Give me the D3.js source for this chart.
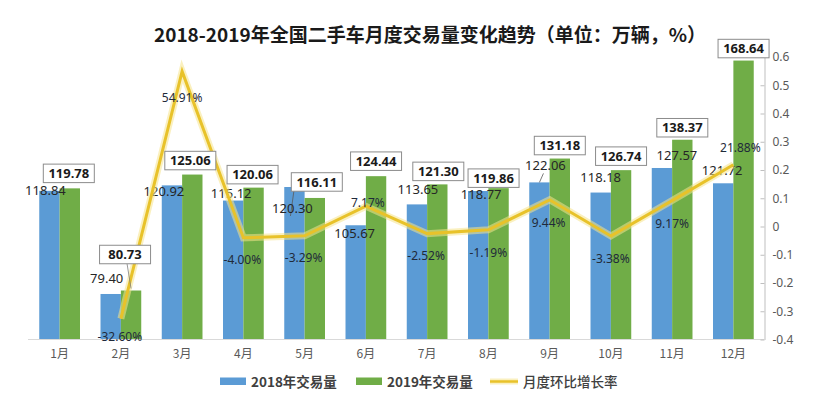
<!DOCTYPE html>
<html><head><meta charset="utf-8">
<script src="https://cdn.jsdelivr.net/npm/d3@7"></script>
<style>
html,body{margin:0;padding:0;background:#fff;}
svg{display:block;}
</style></head>
<body>
<svg id="chart" width="815" height="403"></svg>
<script>
// ---- data ----
const months = ['1月','2月','3月','4月','5月','6月','7月','8月','9月','10月','11月','12月'];
const sales2018 = [118.84, 79.40, 120.92, 115.12, 120.30, 105.67, 113.65, 118.77, 122.06, 118.18, 127.57, 121.72];
const sales2019 = [119.78, 80.73, 125.06, 120.06, 116.11, 124.44, 121.30, 119.86, 131.18, 126.74, 138.37, 168.64];
const momRate = [null, -0.3260, 0.5491, -0.0400, -0.0329, 0.0717, -0.0252, -0.0119, 0.0944, -0.0338, 0.0917, 0.2188];
const rateTicks = [0.6, 0.5, 0.4, 0.3, 0.2, 0.1, 0, -0.1, -0.2, -0.3, -0.4];
const seriesNames = ['2018年交易量', '2019年交易量', '月度环比增长率'];
const titleText = '2018-2019年全国二手车月度交易量变化趋势（单位：万辆，%）';

// ---- label nudges (offsets from anchor, px) ----
const nudge2018 = [[-4,0],[-4,-16],[-8,6],[-2,-7],[-2,21],[-1,8],[1,-15],[3,3],[6,-17],[0,-15],[15,-13],[-1,-13]];
const nudge2019 = [[-1,-15],[-6,-36],[-2,-14],[-1,-13],[2,-16],[0,-15],[1,-13],[-5,-10],[0,-13],[0,-14],[0,-12],[0,-12]];
const nudgeRate = [[0,0],[-1,18],[0,26],[-1,22],[-1,22],[2,-3],[-1,22],[0,23],[-1,23],[0,23],[0,23],[7,-17]];

(function(){
const svg = d3.select('#chart');
const pLeft = 29, pRight = 764, pTop = 57, pBottom = 339.5;
const numFont = '"Noto Sans", "Open Sans", sans-serif';
const cjkFont = '"Noto Sans CJK SC", "Noto Sans", sans-serif';
const blue = '#5B9BD5', green = '#70AD47', gold = '#E8C22A';

const x = d3.scaleBand().domain(months).range([pLeft, pRight]).paddingInner(0.335).paddingOuter(0.1675);
const xs = d3.scaleBand().domain(['2018','2019']).range([0, x.bandwidth()]);
const yBar = d3.scaleLinear().domain([62, 170]).range([pBottom, pTop]);
const yRate = d3.scaleLinear().domain([-0.4, 0.6]).range([pBottom, pTop]);
const cx = m => x(m) + x.bandwidth()/2;

// title
svg.append('text').attr('x', 430).attr('y', 42).attr('text-anchor','middle')
  .attr('font-family', cjkFont).attr('font-weight','bold').attr('font-size', 19)
  .attr('fill','#1a1a1a').text(titleText);

// bars
const g = svg.append('g');
g.selectAll('rect.b18').data(sales2018).join('rect').attr('class','b18')
  .attr('x', (d,i) => x(months[i]) + xs('2018')).attr('width', xs.bandwidth())
  .attr('y', d => yBar(d)).attr('height', d => pBottom - yBar(d)).attr('fill', blue);
g.selectAll('rect.b19').data(sales2019).join('rect').attr('class','b19')
  .attr('x', (d,i) => x(months[i]) + xs('2019')).attr('width', xs.bandwidth())
  .attr('y', d => yBar(d)).attr('height', d => pBottom - yBar(d)).attr('fill', green);

// bottom axis
const xAxis = svg.append('g').attr('transform', `translate(0,${pBottom})`)
  .call(d3.axisBottom(x).tickSize(0).tickPadding(10));
xAxis.select('.domain').attr('stroke', '#d9d9d9').attr('d', `M${pLeft-1},0H${pRight}`);
xAxis.selectAll('text').attr('font-family', cjkFont).attr('font-size', 12).attr('fill', '#595959');

// right axis
const yAxis = svg.append('g').attr('transform', `translate(${pRight + 0.5},0)`)
  .call(d3.axisRight(yRate).tickValues(rateTicks).tickSizeInner(-4).tickSizeOuter(0).tickPadding(8)
    .tickFormat(d => d === 0 ? '0' : d.toFixed(1)));
yAxis.select('.domain').attr('stroke', '#bfbfbf');
yAxis.selectAll('.tick line').attr('stroke', '#bfbfbf');
yAxis.selectAll('text').attr('font-family', numFont).attr('font-size', 12).attr('fill', '#595959');

// 2018 labels
const lbl18 = svg.append('g');
sales2018.forEach((v, i) => {
  const bx = x(months[i]) + xs('2018') + xs.bandwidth()/2;
  const by = yBar(v);
  const [dx, dy] = nudge2018[i];
  if (Math.abs(dy) > 16) {
    lbl18.append('line').attr('x1', bx).attr('y1', by).attr('x2', bx + dx - 2).attr('y2', by + dy + 8)
      .attr('stroke', '#595959').attr('stroke-width', 0.8);
  }
  lbl18.append('text').attr('x', bx + dx).attr('y', by + dy).attr('dy', '0.35em')
    .attr('text-anchor', 'middle').attr('font-family', numFont).attr('font-size', 13)
    .attr('fill', '#262626').text(v.toFixed(2));
});

// line
const lineGen = d3.line().defined(d => d.v != null).x(d => cx(d.m)).y(d => yRate(d.v));
const lineData = momRate.map((v, i) => ({m: months[i], v}));
svg.append('path').datum(lineData).attr('d', lineGen).attr('fill','none')
  .attr('stroke', '#f6e48a').attr('stroke-width', 7).attr('stroke-opacity', 0.55).attr('stroke-linejoin','miter');
svg.append('path').datum(lineData).attr('d', lineGen).attr('fill','none')
  .attr('stroke', gold).attr('stroke-width', 3).attr('stroke-linejoin','miter');

// 2019 labels (boxed)
const lbl19 = svg.append('g');
const boxW = 51, boxH = 18.5;
sales2019.forEach((v, i) => {
  const bx = x(months[i]) + xs('2019') + xs.bandwidth()/2;
  const by = yBar(v);
  const [dx, dy] = nudge2019[i];
  const ccx = bx + dx, ccy = by + dy;
  if (Math.abs(dy) > 20) {
    lbl19.append('line').attr('x1', ccx + 2).attr('y1', ccy + boxH/2).attr('x2', bx).attr('y2', by - 2)
      .attr('stroke', '#7f7f7f').attr('stroke-width', 0.8);
  }
  lbl19.append('rect').attr('x', ccx - boxW/2).attr('y', ccy - boxH/2).attr('width', boxW).attr('height', boxH)
    .attr('fill', '#fff').attr('stroke', '#8c8c8c').attr('stroke-width', 1);
  lbl19.append('text').attr('x', ccx).attr('y', ccy).attr('dy', '0.36em')
    .attr('text-anchor', 'middle').attr('font-family', numFont).attr('font-weight', 'bold').attr('font-size', 13)
    .attr('fill', '#1a1a1a').text(v.toFixed(2));
});

// rate labels
const lblR = svg.append('g');
momRate.forEach((v, i) => {
  if (v == null) return;
  const [dx, dy] = nudgeRate[i];
  lblR.append('text').attr('x', cx(months[i]) + dx).attr('y', yRate(v) + dy).attr('dy', '0.35em')
    .attr('text-anchor', 'middle').attr('font-family', numFont).attr('font-size', 12)
    .attr('fill', '#1f2a3a').text((v*100).toFixed(2) + '%');
});

// legend
const leg = svg.append('g');
leg.append('rect').attr('x', 220).attr('y', 377.5).attr('width', 26).attr('height', 7.5).attr('fill', blue);
leg.append('text').attr('x', 251).attr('y', 386.5).attr('font-family', cjkFont).attr('font-weight','bold')
  .attr('font-size', 13.5).attr('fill', '#404040').text(seriesNames[0]);
leg.append('rect').attr('x', 356).attr('y', 377.5).attr('width', 26).attr('height', 7.5).attr('fill', green);
leg.append('text').attr('x', 387).attr('y', 386.5).attr('font-family', cjkFont).attr('font-weight','bold')
  .attr('font-size', 13.5).attr('fill', '#404040').text(seriesNames[1]);
leg.append('line').attr('x1', 490).attr('x2', 518).attr('y1', 381.5).attr('y2', 381.5)
  .attr('stroke', '#f6e48a').attr('stroke-width', 6).attr('stroke-opacity', 0.55);
leg.append('line').attr('x1', 490).attr('x2', 518).attr('y1', 381.5).attr('y2', 381.5)
  .attr('stroke', gold).attr('stroke-width', 2.5);
leg.append('text').attr('x', 523).attr('y', 386.5).attr('font-family', cjkFont).attr('font-weight','500')
  .attr('font-size', 13.5).attr('fill', '#404040').text(seriesNames[2]);
})();
</script>
</body></html>
